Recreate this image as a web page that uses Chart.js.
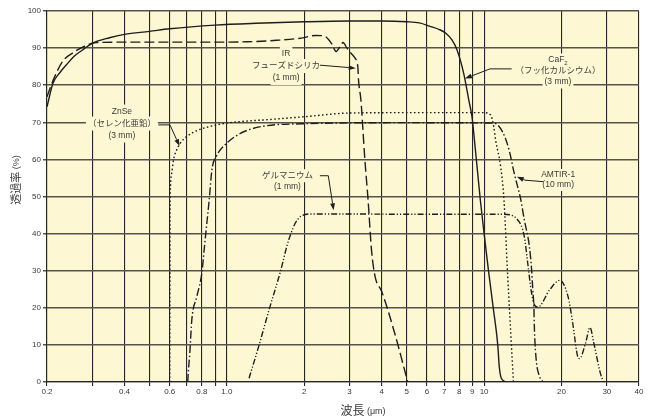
<!DOCTYPE html>
<html>
<head>
<meta charset="utf-8">
<script src="https://cdn.jsdelivr.net/npm/chart.js@4/dist/chart.umd.min.js"></script>
<style>
  html, body { margin: 0; padding: 0; background: #ffffff; }
  canvas { display: block; }
</style>
</head>
<body>
<canvas id="chart" width="656" height="419"></canvas>
<script>
// Transmission (%) versus wavelength (µm) for several IR window materials.
const caf2Wavelength   = [0.2, 0.211, 0.225, 0.238, 0.255, 0.275, 0.3, 0.35, 0.4, 0.5, 0.6, 0.9, 1.3, 2, 3, 4, 5, 5.6, 6.2, 6.7, 7.1, 7.5, 7.85, 8.33, 8.72, 8.97, 9.25, 9.67, 10, 10.4, 10.85, 11.3, 11.45, 11.6, 11.85, 12.2];
const caf2Transmission = [74.2, 80.5, 83.5, 85.5, 87.8, 89.5, 91.3, 92.8, 93.7, 94.5, 95.2, 96.2, 96.7, 97.1, 97.3, 97.3, 97.1, 96.8, 95.8, 95.0, 94.0, 92.2, 89.5, 83.2, 76.0, 71.5, 62.6, 49.0, 40.0, 30.0, 20.0, 10.0, 4.2, 1.5, 0.4, 0];

const silicaWavelength   = [0.2, 0.213, 0.23, 0.252, 0.28, 0.31, 0.4, 0.82, 1.2, 1.56, 1.95, 2.21, 2.38, 2.48, 2.55, 2.66, 2.78, 2.83, 2.93, 3.04, 3.15, 3.23, 3.25, 3.32, 3.44, 3.54, 3.65, 3.77, 4.0, 4.49, 5.05];
const silicaTransmission = [76.9, 81.9, 86.4, 88.7, 90.5, 91.5, 91.6, 91.6, 91.7, 92.1, 92.7, 93.4, 93.3, 92.4, 91.3, 89.1, 90.9, 91.5, 90.0, 88.6, 87.3, 85.0, 81.4, 76.0, 59.9, 49.1, 35.6, 28.4, 24.4, 13.2, 0];

const znseWavelength   = [0.6, 0.6005, 0.601, 0.602, 0.61, 0.621, 0.638, 0.658, 0.7, 0.78, 0.9, 1.0, 1.5, 2, 3, 5, 10, 10.6, 10.9, 11.1, 11.6, 11.95, 12.3, 12.7, 13.0];
const znseTransmission = [0, 20, 40, 49, 56, 60, 62.5, 64.3, 66.2, 68, 69.2, 69.8, 70.8, 71.5, 72.5, 72.6, 72.6, 72.0, 68.8, 65.0, 58.0, 49.0, 31.0, 13.0, 0];

const amtirWavelength   = [0.705, 0.708, 0.718, 0.731, 0.765, 0.8, 0.821, 0.854, 0.875, 0.91, 1.0, 1.22, 1.95, 5, 10.9, 11.78, 12.5, 13.09, 13.9, 14.33, 15.0, 15.3, 15.46, 15.61, 15.69, 15.94, 16.42, 16.94];
const amtirTransmission = [0, 2.4, 7.8, 16.8, 23.1, 29.5, 37.4, 49.1, 57.2, 60.8, 64.4, 68.0, 69.6, 69.9, 69.8, 67.5, 62.6, 56.3, 49.0, 43.7, 36.5, 30.2, 24.9, 20.4, 14.1, 6.0, 1.5, 0];

const geWavelength   = [1.22, 1.33, 1.46, 1.61, 1.74, 1.88, 2.12, 3, 5, 10, 11.95, 13.5, 14.33, 14.78, 15.22, 15.69, 16.19, 18.0, 19.7, 21.2, 22.1, 23.1, 23.5, 24.8, 25.8, 26.7, 28.3, 29.1];
const geTransmission = [1, 9.6, 19.5, 29.4, 38.3, 43.7, 45.3, 45.3, 45.2, 45.2, 45.2, 43.7, 39.2, 32.0, 24.9, 20.8, 20.2, 24.9, 27.4, 23.0, 15.9, 6.9, 6.3, 10.5, 14.7, 10.5, 2.4, 0];

// Axis ticks
const xGridValues  = [0.2, 0.3, 0.4, 0.5, 0.6, 0.7, 0.8, 0.9, 1, 2, 3, 4, 5, 6, 7, 8, 9, 10, 20, 30, 40];
const xLabelValues = [0.2, 0.4, 0.6, 0.8, 1, 2, 3, 4, 5, 6, 7, 8, 9, 10, 20, 30, 40];
const xLabelTexts  = ['0.2', '0.4', '0.6', '0.8', '1.0', '2', '3', '4', '5', '6', '7', '8', '9', '10', '20', '30', '40'];
const yTickValues  = [0, 10, 20, 30, 40, 50, 60, 70, 80, 90, 100];

const PLOT_BG = '#fdf8d3';
const INK = '#1e1e1e';
const TEXT = '#3a3a3a';
const FONT = '"Liberation Sans", "Noto Sans CJK JP", Arial, sans-serif';

function pairs(xs, ys) { return xs.map((x, i) => ({ x: x, y: ys[i] })); }

const lineStyles = [
  { name: 'CaF2',   data: pairs(caf2Wavelength, caf2Transmission),     dash: [] },
  { name: 'IR fused silica', data: pairs(silicaWavelength, silicaTransmission), dash: [10, 4] },
  { name: 'ZnSe',   data: pairs(znseWavelength, znseTransmission),     dash: [1.6, 2.4] },
  { name: 'AMTIR-1', data: pairs(amtirWavelength, amtirTransmission),  dash: [8, 2.5, 1.5, 2.5] },
  { name: 'Ge',     data: pairs(geWavelength, geTransmission),         dash: [6, 2, 1.2, 2, 1.2, 2] }
];

// Callout labels: text lines, first-line centre (wavelength, %), leader path and arrow tip.
const callouts = [
  { lines: ['IR', 'フューズドシリカ', '(1 mm)'], at: [1.70, 88.4], gap: 12,
    leader: [[2.30, 85.4]], tip: [3.17, 84.6] },
  { lines: ['ZnSe', '（セレン化亜鉛）', '(3 mm)'], at: [0.391, 72.9], gap: 12,
    leader: [[0.5416, 69.3], [0.601, 69.3]], tip: [0.655, 63.6] },
  { lines: ['ゲルマニウム', '(1 mm)'], at: [1.72, 55.6], gap: 11,
    leader: [[2.30, 55.6], [2.48, 55.6]], tip: [2.6, 46.3] },
  { lines: [{ text: 'CaF', sub: '2' }, '（フッ化カルシウム）', '(3 mm)'], at: [19.37, 86.8], gap: 11,
    leader: [[12.8, 84.4], [10.54, 84.4]], tip: [8.42, 81.8] },
  { lines: ['AMTIR-1', '(10 mm)'], at: [19.4, 55.8], gap: 10,
    leader: [[16.98, 54.0], [14.42, 54.4]], tip: [13.4, 55.3] }
];

const LABEL_SIZE = 8.5;

function lineWidthOf(ctx, line) {
  if (typeof line === 'string') return ctx.measureText(line).width;
  const w = ctx.measureText(line.text).width;
  ctx.save();
  ctx.font = `${LABEL_SIZE * 0.7}px ${FONT}`;
  const ws = ctx.measureText(line.sub).width;
  ctx.restore();
  return w + ws;
}

const plotBackground = {
  id: 'plotBackground',
  beforeDraw(chart) {
    const { ctx, chartArea: a } = chart;
    ctx.save();
    ctx.fillStyle = PLOT_BG;
    ctx.fillRect(a.left, a.top, a.right - a.left, a.bottom - a.top);
    ctx.restore();
  }
};

const calloutPlugin = {
  id: 'callouts',
  beforeDatasetsDraw(chart) {
    const { ctx, scales } = chart;
    ctx.save();
    ctx.font = `${LABEL_SIZE}px ${FONT}`;
    ctx.fillStyle = PLOT_BG;
    callouts.forEach(c => {
      const cx = scales.x.getPixelForValue(c.at[0]);
      const cy0 = scales.y.getPixelForValue(c.at[1]);
      c.lines.forEach((line, i) => {
        const w = lineWidthOf(ctx, line) + 4;
        const cy = cy0 + i * c.gap;
        ctx.fillRect(cx - w / 2, cy - c.gap / 2 - 1, w, c.gap + 2);
      });
    });
    ctx.restore();
  },
  afterDatasetsDraw(chart) {
    const { ctx, scales } = chart;
    const px = p => [scales.x.getPixelForValue(p[0]), scales.y.getPixelForValue(p[1])];
    ctx.save();
    // leaders with arrowheads
    ctx.strokeStyle = INK;
    ctx.fillStyle = INK;
    ctx.lineWidth = 1;
    callouts.forEach(c => {
      const pts = c.leader.map(px);
      const tip = px(c.tip);
      ctx.beginPath();
      ctx.moveTo(pts[0][0], pts[0][1]);
      for (let i = 1; i < pts.length; i++) ctx.lineTo(pts[i][0], pts[i][1]);
      const last = pts[pts.length - 1];
      const ang = Math.atan2(tip[1] - last[1], tip[0] - last[0]);
      const len = 7, half = 2.4;
      const bx = tip[0] - len * Math.cos(ang), by = tip[1] - len * Math.sin(ang);
      ctx.lineTo(bx, by);
      ctx.stroke();
      ctx.beginPath();
      ctx.moveTo(tip[0], tip[1]);
      ctx.lineTo(bx + half * Math.sin(ang), by - half * Math.cos(ang));
      ctx.lineTo(bx - half * Math.sin(ang), by + half * Math.cos(ang));
      ctx.closePath();
      ctx.fill();
    });
    // label text
    ctx.fillStyle = TEXT;
    ctx.textBaseline = 'middle';
    callouts.forEach(c => {
      const cx = scales.x.getPixelForValue(c.at[0]);
      const cy0 = scales.y.getPixelForValue(c.at[1]);
      c.lines.forEach((line, i) => {
        const cy = cy0 + i * c.gap;
        ctx.font = `${LABEL_SIZE}px ${FONT}`;
        if (typeof line === 'string') {
          ctx.textAlign = 'center';
          ctx.fillText(line, cx, cy);
        } else {
          const total = lineWidthOf(ctx, line);
          const mainW = ctx.measureText(line.text).width;
          ctx.textAlign = 'left';
          ctx.fillText(line.text, cx - total / 2, cy);
          ctx.font = `${LABEL_SIZE * 0.7}px ${FONT}`;
          ctx.fillText(line.sub, cx - total / 2 + mainW, cy + 3);
        }
      });
    });
    ctx.restore();
  }
};

function drawMixed(ctx, parts, cx, cy) {
  let total = 0;
  parts.forEach(p => { ctx.font = `${p.size}px ${FONT}`; p.w = ctx.measureText(p.text).width; total += p.w; });
  let x = cx - total / 2;
  parts.forEach(p => { ctx.font = `${p.size}px ${FONT}`; ctx.fillText(p.text, x, cy); x += p.w; });
}

const axisTitles = {
  id: 'axisTitles',
  afterDraw(chart) {
    const { ctx, chartArea: a } = chart;
    ctx.save();
    ctx.fillStyle = TEXT;
    ctx.textBaseline = 'middle';
    ctx.textAlign = 'left';
    drawMixed(ctx, [{ text: '波長', size: 12 }, { text: ' (μm)', size: 9 }], (a.left + a.right) / 2 + 20, 412);
    ctx.translate(17, 180);
    ctx.rotate(-Math.PI / 2);
    drawMixed(ctx, [{ text: '透過率', size: 11 }, { text: ' (%)', size: 9 }], 0, 0);
    ctx.restore();
  }
};

new Chart(document.getElementById('chart'), {
  type: 'line',
  data: {
    datasets: lineStyles.map(s => ({
      label: s.name,
      data: s.data,
      borderColor: INK,
      borderWidth: 1.4,
      borderDash: s.dash,
      pointRadius: 0,
      fill: false,
      cubicInterpolationMode: 'monotone'
    }))
  },
  options: {
    responsive: false,
    animation: false,
    devicePixelRatio: 1,
    layout: { padding: { top: 11, right: 17, left: 0, bottom: 0 } },
    plugins: { legend: { display: false }, tooltip: { enabled: false } },
    scales: {
      x: {
        type: 'logarithmic',
        min: 0.2,
        max: 40,
        bounds: 'data',
        afterBuildTicks: s => { s.ticks = xGridValues.map(v => ({ value: v })); },
        afterFit: s => { s.height = 37; },
        grid: { color: '#262626', lineWidth: 1.1, tickLength: 4, drawTicks: true },
        border: { color: '#262626', width: 1.1 },
        ticks: {
          autoSkip: false, maxRotation: 0, padding: 1,
          color: TEXT, font: { family: FONT, size: 8 },
          callback: v => { const i = xLabelValues.indexOf(v); return i >= 0 ? xLabelTexts[i] : ''; }
        }
      },
      y: {
        min: 0,
        max: 100,
        afterBuildTicks: s => { s.ticks = yTickValues.map(v => ({ value: v })); },
        afterFit: s => { s.width = 47; },
        grid: { color: '#57524a', lineWidth: 1.5, tickLength: 4, drawTicks: true },
        border: { color: '#262626', width: 1.1 },
        ticks: { padding: 2, color: TEXT, font: { family: FONT, size: 8 } }
      }
    }
  },
  plugins: [plotBackground, calloutPlugin, axisTitles]
});
</script>
</body>
</html>
